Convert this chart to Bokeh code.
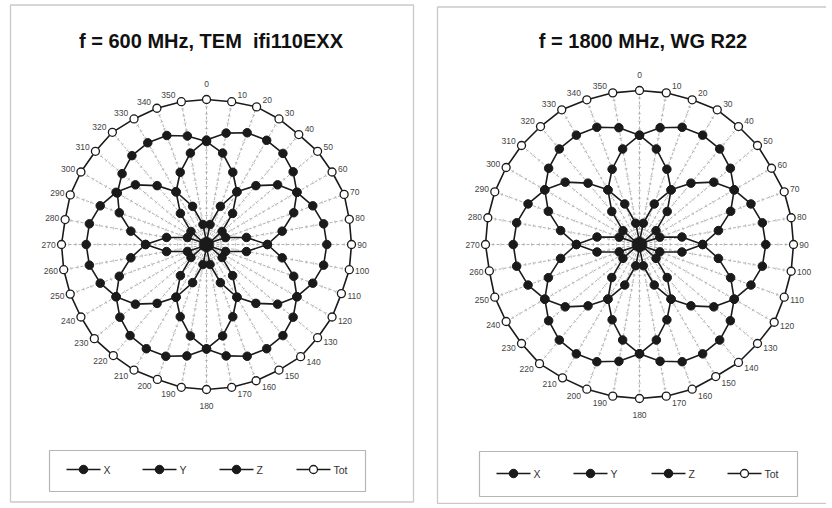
import numpy as np
from bokeh.plotting import figure
from bokeh.models import Range1d
from bokeh.core.properties import value
from bokeh.embed import file_html
from bokeh.resources import INLINE

# ---------------- data ----------------
ANGLES = [0, 10, 20, 30, 40, 50, 60, 70, 80, 90, 100, 110, 120, 130, 140, 150, 160, 170,
          180, 190, 200, 210, 220, 230, 240, 250, 260, 270, 280, 290, 300, 310, 320, 330, 340, 350]
ANGLE_LABELS = [str(a) for a in ANGLES]
SERIES_NAMES = ["X", "Y", "Z", "Tot"]

TITLE_600 = "f = 600 MHz, TEM \u00a0ifi110EXX"
X_600 = [0.02, 0.14, 0.28, 0.42, 0.53, 0.64, 0.72, 0.78, 0.82, 0.83, 0.82, 0.78, 0.72, 0.64, 0.53, 0.42, 0.28, 0.14,
         0.02, 0.14, 0.28, 0.42, 0.53, 0.64, 0.72, 0.78, 0.82, 0.83, 0.82, 0.78, 0.72, 0.64, 0.53, 0.42, 0.28, 0.14]
Y_600 = [0.72, 0.78, 0.82, 0.83, 0.82, 0.78, 0.72, 0.64, 0.53, 0.42, 0.28, 0.14, 0.02, 0.14, 0.28, 0.42, 0.53, 0.64,
         0.72, 0.78, 0.82, 0.83, 0.82, 0.78, 0.72, 0.64, 0.53, 0.42, 0.28, 0.14, 0.02, 0.14, 0.28, 0.42, 0.53, 0.64]
Z_600 = [0.71, 0.64, 0.53, 0.42, 0.28, 0.14, 0.02, 0.14, 0.28, 0.42, 0.53, 0.64, 0.72, 0.78, 0.82, 0.83, 0.82, 0.78,
         0.72, 0.64, 0.53, 0.42, 0.28, 0.14, 0.02, 0.14, 0.28, 0.42, 0.53, 0.64, 0.71, 0.76, 0.80, 0.81, 0.80, 0.76]
TOT_600 = [1.00, 1.00, 1.01, 1.00, 0.99, 1.00, 1.00, 1.01, 1.00, 1.00, 1.00, 0.99, 1.00, 1.00, 1.01, 1.00, 1.00, 1.00,
           1.00, 1.00, 0.99, 1.00, 1.00, 1.01, 1.00, 1.00, 1.00, 1.00, 0.99, 1.00, 1.00, 1.00, 1.01, 1.00, 1.00, 1.00]

TITLE_1800 = "f = 1800 MHz, WG R22"
X_1800 = [0.02, 0.14, 0.28, 0.41, 0.52, 0.63, 0.71, 0.77, 0.81, 0.82, 0.81, 0.77, 0.71, 0.63, 0.52, 0.41, 0.28, 0.14,
          0.02, 0.14, 0.28, 0.41, 0.52, 0.63, 0.71, 0.77, 0.81, 0.82, 0.81, 0.77, 0.71, 0.63, 0.52, 0.41, 0.28, 0.14]
Y_1800 = [0.71, 0.77, 0.81, 0.82, 0.81, 0.77, 0.71, 0.63, 0.52, 0.41, 0.28, 0.14, 0.02, 0.14, 0.28, 0.41, 0.52, 0.63,
          0.71, 0.77, 0.81, 0.82, 0.81, 0.77, 0.71, 0.63, 0.52, 0.41, 0.28, 0.14, 0.02, 0.14, 0.28, 0.41, 0.52, 0.63]
Z_1800 = [0.71, 0.63, 0.52, 0.41, 0.28, 0.14, 0.02, 0.14, 0.28, 0.41, 0.52, 0.63, 0.71, 0.77, 0.81, 0.82, 0.81, 0.77,
          0.71, 0.63, 0.52, 0.41, 0.28, 0.14, 0.02, 0.14, 0.28, 0.41, 0.52, 0.63, 0.71, 0.77, 0.81, 0.82, 0.81, 0.77]
TOT_1800 = [1.00, 1.00, 1.00, 1.01, 1.00, 1.00, 0.99, 1.00, 1.00, 1.00, 1.00, 1.00, 1.01, 1.00, 1.00, 0.99, 1.00, 1.00,
            1.00, 1.00, 1.00, 1.00, 1.01, 1.00, 1.00, 1.00, 0.99, 1.00, 1.00, 1.00, 1.00, 1.00, 1.00, 1.01, 1.00, 1.00]

AXIS_MAX = 1.0
TICK_LEVELS = [0.05 * k for k in range(1, 20)]

# ---------------- layout / style ----------------
FONT = "Liberation Sans"
INK = "#1a1a1a"
W, H = 826, 504

p = figure(width=W, height=H, x_range=Range1d(0, W), y_range=Range1d(H, 0),
           output_backend="svg", toolbar_location=None, min_border=0)
p.axis.visible = False
p.grid.visible = False
p.outline_line_color = None
p.background_fill_color = "white"
p.border_fill_color = "white"

charts = [
    dict(title=TITLE_600, tx=210.5, cx=206.0, cy=244.0, R=145.0,
         data=[X_600, Y_600, Z_600, TOT_600],
         frame=(10, 413, 4.5, 501.5),
         legend_box=(49, 365, 450, 491), legend_y=469, legend_x=[83, 159, 236, 313]),
    dict(title=TITLE_1800, tx=642.5, cx=639.0, cy=244.0, R=154.0,
         data=[X_1800, Y_1800, Z_1800, TOT_1800],
         frame=(437, 860, 6.5, 503.0),
         legend_box=(479, 797, 451, 496), legend_y=473, legend_x=[513, 590, 668, 744]),
]

ang = np.radians(np.array(ANGLES, dtype=float))
sin_a, cos_a = np.sin(ang), np.cos(ang)

for ch in charts:
    cx, cy, R = ch["cx"], ch["cy"], ch["R"]

    # panel frame
    l, r_, t, b = ch["frame"]
    p.quad(left=[l], right=[r_], top=[t], bottom=[b], fill_color=None,
           line_color="#c9c9c9", line_width=1.3)

    # spokes
    p.segment(x0=np.full(len(ANGLES), cx), y0=np.full(len(ANGLES), cy),
              x1=cx + R * AXIS_MAX * sin_a, y1=cy - R * AXIS_MAX * cos_a,
              line_color="#9a9a9a", line_width=0.8, line_dash="3 2")
    # tick marks on spokes
    tx0, ty0, tx1, ty1 = [], [], [], []
    for lv in TICK_LEVELS:
        px = cx + R * lv * sin_a
        py = cy - R * lv * cos_a
        tx0.extend(px - 1.6 * cos_a); ty0.extend(py - 1.6 * sin_a)
        tx1.extend(px + 1.6 * cos_a); ty1.extend(py + 1.6 * sin_a)
    p.segment(x0=tx0, y0=ty0, x1=tx1, y1=ty1, line_color="#b0b0b0", line_width=0.7)

    # series lines
    pts = []
    for vals in ch["data"]:
        v = np.array(vals, dtype=float)
        xs = cx + R * v * sin_a
        ys = cy - R * v * cos_a
        pts.append((xs, ys))
        p.line(np.append(xs, xs[0]), np.append(ys, ys[0]), line_color=INK, line_width=1.6)
    # markers
    for i, (xs, ys) in enumerate(pts):
        if SERIES_NAMES[i] == "Tot":
            p.scatter(xs, ys, size=8, marker="circle", fill_color="white", line_color=INK, line_width=1.3)
        else:
            p.scatter(xs, ys, size=8.5, marker="circle", fill_color=INK, line_color=INK, line_width=1)

    # angle labels
    lx, ly = [], []
    tot = np.array(ch["data"][3], dtype=float)
    for k, a in enumerate(ANGLES):
        mx = cx + R * tot[k] * sin_a[k]
        my = cy - R * tot[k] * cos_a[k]
        wtxt = 4.6 * len(ANGLE_LABELS[k])
        if a == 0:
            lx.append(mx); ly.append(my - 16)
        elif a == 180:
            lx.append(mx); ly.append(my + 16)
        else:
            sgn = 1 if a < 180 else -1
            lx.append(mx + sgn * (wtxt / 2 + 6)); ly.append(my - 7 * cos_a[k])
    p.text(x=lx, y=ly, text=ANGLE_LABELS, text_font=value(FONT), text_font_size="8.5px",
           text_color="#444444", text_align="center", text_baseline="middle")

    # title
    p.text(x=[ch["tx"]], y=[40], text=[ch["title"]], text_font=value(FONT), text_font_size="20px",
           text_font_style="bold", text_color="#111111", text_align="center", text_baseline="middle")

    # legend
    l, r_, t, b = ch["legend_box"]
    p.quad(left=[l], right=[r_], top=[t], bottom=[b], fill_color="white",
           line_color="#b5b5b5", line_width=1.2)
    ly0 = ch["legend_y"]
    for i, name in enumerate(SERIES_NAMES):
        mx = ch["legend_x"][i]
        p.segment(x0=[mx - 17], y0=[ly0], x1=[mx + 17], y1=[ly0], line_color=INK, line_width=1.6)
        if name == "Tot":
            p.scatter([mx], [ly0], size=8, fill_color="white", line_color=INK, line_width=1.3)
        else:
            p.scatter([mx], [ly0], size=8.5, fill_color=INK, line_color=INK)
        p.text(x=[mx + 20], y=[ly0], text=[name], text_font=value(FONT), text_font_size="10.5px",
               text_color="#333333", text_align="left", text_baseline="middle")

open("out.html", "w").write(file_html(p, INLINE))
